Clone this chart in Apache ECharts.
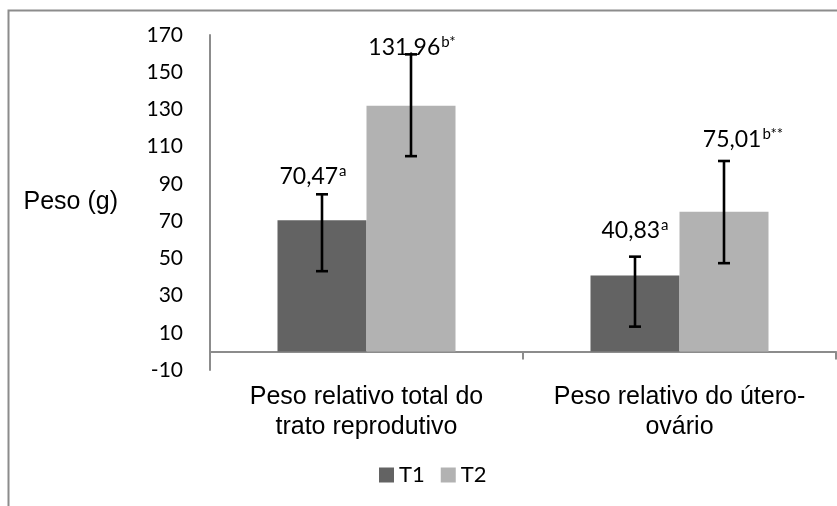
<!DOCTYPE html>
<html><head><meta charset="utf-8">
<script src="https://cdn.jsdelivr.net/npm/echarts@6/dist/echarts.min.js"></script>
<style>html,body{margin:0;padding:0;background:#fff}#c{width:837px;height:506px}</style>
</head><body><div id="c"></div>
<script>
// ---- data ----
const categories = ['Peso relativo total do\ntrato reprodutivo', 'Peso relativo do útero-\novário'];
const seriesNames = ['T1', 'T2'];
const t1Values = [70.47, 40.83];
const t2Values = [131.96, 75.01];
const t1ErrLow = [43.1, 13.3];
const t1ErrHigh = [84.4, 50.9];
const t2ErrLow = [104.9, 47.4];
const t2ErrHigh = [159.6, 102.3];
const t1Sup = ['a', 'a'];
const t2Sup = ['b*', 'b**'];
const yMin = -10, yMax = 170, yStep = 20;
const yAxisName = 'Peso (g)';

// ---- style ----
const BAR_W = 89;
const C1 = '#636363', C2 = '#b2b2b2';
const AXIS_C = '#8c8c8c';
const NUM_FONT = 'Lato';
const TXT_FONT = 'Liberation Sans';
// label offsets (pixels) relative to top of error bar
const labelShift = {
  T1: [[-9, -18], [0, -26]],
  T2: [[1, -7], [19, -21]]
};

function fmt(v) { return v.toFixed(2).replace('.', ','); }

function errSeries(name, lows, highs, side) {
  return {
    type: 'custom', name: name, silent: true, z: 5,
    data: lows.map((l, i) => [i, l, highs[i]]),
    renderItem: function (params, api) {
      const c = api.value(0);
      const lo = api.coord([c, api.value(1)]);
      const hi = api.coord([c, api.value(2)]);
      const x = lo[0] + side * BAR_W / 2;
      const st = { stroke: '#000', lineWidth: 2.6 };
      return {
        type: 'group', children: [
          { type: 'line', shape: { x1: x, y1: hi[1], x2: x, y2: lo[1] }, style: st },
          { type: 'line', shape: { x1: x - 6, y1: hi[1], x2: x + 6, y2: hi[1] }, style: st },
          { type: 'line', shape: { x1: x - 6, y1: lo[1], x2: x + 6, y2: lo[1] }, style: st }
        ]
      };
    }
  };
}

function labelSeries(name, values, highs, sups, side, shifts) {
  return {
    type: 'custom', name: name, silent: true, z: 6,
    data: values.map((v, i) => [i, highs[i], v]),
    renderItem: function (params, api) {
      const i = params.dataIndex;
      const p = api.coord([api.value(0), api.value(1)]);
      const x = p[0] + side * BAR_W / 2 + shifts[i][0];
      const y = p[1] + shifts[i][1];
      return {
        type: 'text', x: x, y: y,
        style: {
          text: '{m|' + fmt(api.value(2)) + '}{s|' + sups[i] + '}',
          align: 'center', verticalAlign: 'middle',
          rich: {
            m: { fontFamily: NUM_FONT, fontSize: 23, lineHeight: 28, fill: '#000', verticalAlign: 'middle' },
            s: { fontFamily: NUM_FONT, fontSize: 15, lineHeight: 15, fill: '#000', verticalAlign: 'top', padding: [1, 0, 0, 1] }
          }
        }
      };
    }
  };
}

const chart = echarts.init(document.getElementById('c'), null, { renderer: 'canvas' });
chart.setOption({
  animation: false,
  backgroundColor: '#fff',
  grid: { left: 210, right: 1, top: 35, bottom: 136 },
  legend: {
    data: seriesNames, left: 374, top: 459, icon: 'rect',
    itemWidth: 15, itemHeight: 15, itemGap: 16,
    textStyle: { fontFamily: NUM_FONT, fontSize: 22, color: '#000' }
  },
  xAxis: {
    type: 'category', data: categories,
    axisLine: { onZero: true, lineStyle: { color: AXIS_C, width: 2 } },
    axisTick: { show: true, length: 8, interval: 0, lineStyle: { color: AXIS_C, width: 2 } },
    axisLabel: { interval: 0, fontFamily: TXT_FONT, fontSize: 25, lineHeight: 30, color: '#000', margin: 12 }
  },
  yAxis: {
    type: 'value', min: yMin, max: yMax, interval: yStep,
    name: yAxisName, nameLocation: 'middle', nameRotate: 0, nameGap: 92,
    nameTextStyle: { fontFamily: TXT_FONT, fontSize: 25, color: '#000' },
    axisLine: { show: true, lineStyle: { color: AXIS_C, width: 2 } },
    axisTick: { show: false },
    splitLine: { show: false },
    axisLabel: { fontFamily: NUM_FONT, fontSize: 21, color: '#000', margin: 27 }
  },
  graphic: [{
    type: 'polyline', silent: true,
    shape: { points: [[8.5, 506], [8.5, 10.5], [837, 10.5]] },
    style: { stroke: AXIS_C, lineWidth: 2, fill: null }
  }],
  series: [
    { type: 'bar', name: 'T1', data: t1Values, barWidth: BAR_W, barGap: '0%', itemStyle: { color: C1 } },
    { type: 'bar', name: 'T2', data: t2Values, barWidth: BAR_W, barGap: '0%', itemStyle: { color: C2 } },
    errSeries('errT1', t1ErrLow, t1ErrHigh, -1),
    errSeries('errT2', t2ErrLow, t2ErrHigh, 1),
    labelSeries('lblT1', t1Values, t1ErrHigh, t1Sup, -1, labelShift.T1),
    labelSeries('lblT2', t2Values, t2ErrHigh, t2Sup, 1, labelShift.T2)
  ]
});
</script></body></html>
